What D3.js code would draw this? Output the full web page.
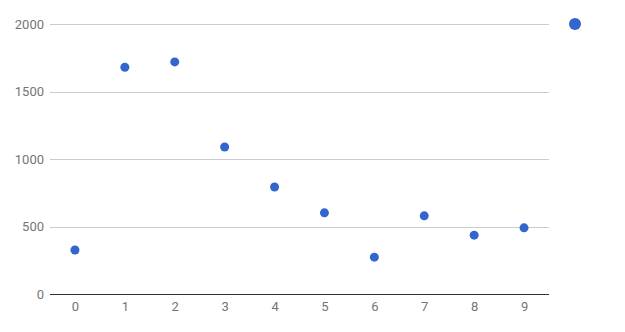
<!DOCTYPE html>
<html>
<head>
<meta charset="utf-8">
<script src="https://cdn.jsdelivr.net/npm/d3@7"></script>
<style>
  body { margin: 0; background: #fff; }
  svg { display: block; }
</style>
</head>
<body>
<div id="chart"></div>
<script>
// Chart data
const xValues = [0, 1, 2, 3, 4, 5, 6, 7, 8, 9];
const yValues = [326, 1680, 1719, 1089, 793, 601, 273, 579, 436, 490];
const yTicks = [0, 500, 1000, 1500, 2000];

const W = 625, H = 332;
const plot = { left: 50, right: 549, top: 24, bottom: 294 };
const blue = '#3366cc';

const svg = d3.select('#chart').append('svg')
    .attr('width', W)
    .attr('height', H);

const x = d3.scaleLinear().domain([-0.5, 9.5]).range([plot.left, plot.right]);
const y = d3.scaleLinear().domain([0, 2000]).range([plot.bottom, plot.top]);

// Gridlines + y labels
const yAxis = svg.append('g')
    .attr('transform', `translate(${plot.left},0)`)
    .call(d3.axisLeft(y).tickValues(yTicks).tickSize(-(plot.right - plot.left))
        .tickPadding(6).tickFormat(d3.format('d')));
yAxis.select('.domain').remove();
yAxis.selectAll('.tick line')
    .attr('stroke', d => d === 0 ? '#333' : '#ccc')
    .attr('shape-rendering', 'crispEdges');
yAxis.selectAll('.tick text')
    .attr('fill', '#757575')
    .attr('font-family', 'Roboto, sans-serif')
    .attr('font-size', '13px');

// X labels
const xAxis = svg.append('g')
    .attr('transform', `translate(0,${plot.bottom})`)
    .call(d3.axisBottom(x).tickValues(xValues).tickSize(0).tickPadding(8).tickFormat(d3.format('d')));
xAxis.select('.domain').remove();
xAxis.selectAll('.tick text')
    .attr('fill', '#757575')
    .attr('font-family', 'Roboto, sans-serif')
    .attr('font-size', '13px');

// Points
svg.append('g').selectAll('circle')
    .data(xValues.map((v, i) => ({ x: v, y: yValues[i] })))
    .join('circle')
    .attr('cx', d => x(d.x))
    .attr('cy', d => y(d.y))
    .attr('r', 4.5)
    .attr('fill', blue);

// Legend marker (no label)
svg.append('circle')
    .attr('cx', 575)
    .attr('cy', y(2000))
    .attr('r', 6)
    .attr('fill', blue);
</script>
</body>
</html>
